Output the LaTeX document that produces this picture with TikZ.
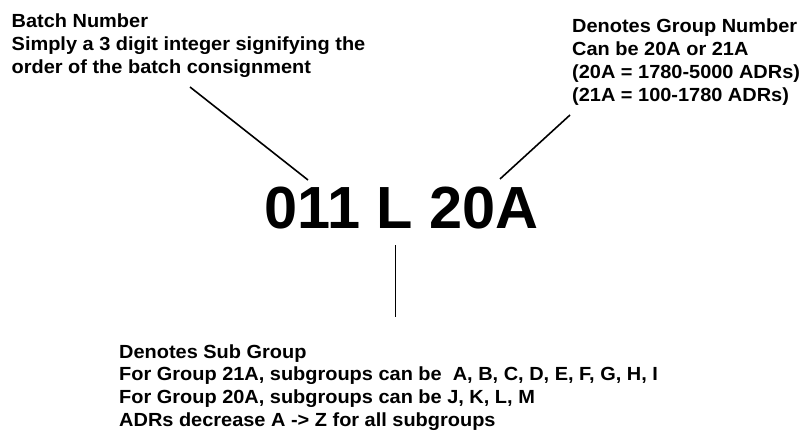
\documentclass[tikz,border=0pt]{standalone}
\usepackage{fontspec}
\setmainfont{Liberation Sans}
\newfontfamily\notefont[FakeStretch=1.05]{Liberation Sans}

\begin{document}
\begin{tikzpicture}[x=1pt,y=-1pt,
    note/.style={anchor=base west,inner sep=0pt,align=left,font=\notefont\bfseries\fontsize{19}{22.8}\selectfont},
    lead/.style={line width=1.6pt}]
    \useasboundingbox (0,0) rectangle (800,436);
    % base anchor sits on the last line
    \node[note] (batch) at (11.5,73.5) {Batch Number\\Simply a 3 digit integer signifying the\\order of the batch consignment};
    \node[note] (group) at (572,101) {Denotes Group Number\\Can be 20A or 21A\\(20A = 1780-5000 ADRs)\\(21A = 100-1780 ADRs)};
    \node[note] (sub) at (119,426.5) {Denotes Sub Group\\For Group 21A, subgroups can be \ A, B, C, D, E, F, G, H, I\\For Group 20A, subgroups can be J, K, L, M\\ADRs decrease A -> Z for all subgroups};
    \node[anchor=base,inner sep=0pt,font=\bfseries\fontsize{59.5}{60}\selectfont] (code) at (401.5,228) {011 L 20A};
    \coordinate (batchTip) at (190,87);
    \coordinate (batchEnd) at (308,180);
    \coordinate (groupTip) at (570,115);
    \coordinate (groupEnd) at (500,179);
    \coordinate (subTop) at (395.5,245);
    \coordinate (subTip) at (395.5,317);
    \draw[lead] (batchTip) -- (batchEnd);
    \draw[lead] (groupTip) -- (groupEnd);
    \draw[lead] (subTop) -- (subTip);
\end{tikzpicture}
\end{document}
